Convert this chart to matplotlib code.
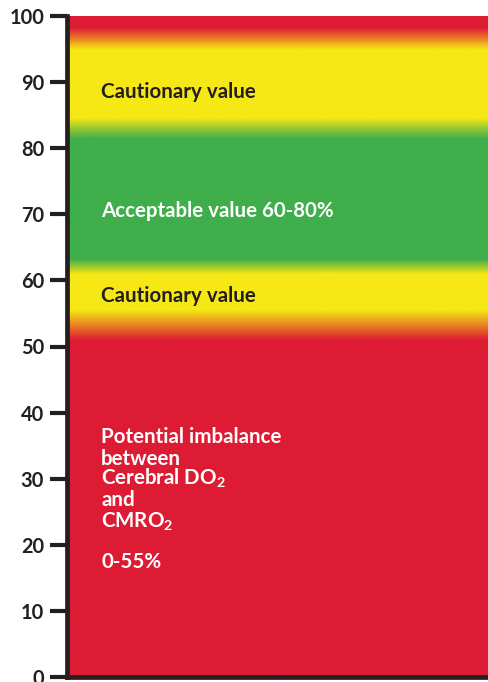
import numpy as np
import matplotlib
matplotlib.use("Agg")
import matplotlib.pyplot as plt
from matplotlib.colors import LinearSegmentedColormap

# ---- data ----
RED = "#DD1C34"
YELLOW = "#F6E815"
GREEN = "#3FAE4B"
DARK = "#231F20"

stop_values = [0, 51.0, 55.5, 61.0, 63.2, 81.5, 84.7, 95.0, 98.3, 100]
stop_colors = [RED, RED, YELLOW, YELLOW, GREEN, GREEN, YELLOW, YELLOW, RED, RED]

yticks = [0, 10, 20, 30, 40, 50, 60, 70, 80, 90, 100]

zone_labels = ["Cautionary value", "Acceptable value 60-80%", "Cautionary value"]
zone_label_y = [87.6, 69.6, 56.7]
zone_label_colors = [DARK, "white", DARK]

red_lines = ["Potential imbalance", "between", r"Cerebral DO$_2$", "and", r"CMRO$_2$", "0-55%"]
red_lines_y = [35.4, 32.1, 29.05, 25.9, 22.55, 16.5]

# ---- style ----
plt.rcParams["font.family"] = ["Lato", "DejaVu Sans"]
plt.rcParams["font.weight"] = "bold"
plt.rcParams["mathtext.fontset"] = "custom"
plt.rcParams["mathtext.rm"] = "Lato:bold"
plt.rcParams["mathtext.it"] = "Lato:bold"
plt.rcParams["mathtext.bf"] = "Lato:bold"
plt.rcParams["mathtext.default"] = "rm"

fig = plt.figure(figsize=(4.88, 6.82), dpi=100)
ax = fig.add_axes([67 / 488, 1 - 677 / 682, 1 - 67 / 488, (677 - 16) / 682])

cmap = LinearSegmentedColormap.from_list(
    "zones", [(v / 100.0, c) for v, c in zip(stop_values, stop_colors)], N=1024)
grad = np.linspace(0, 100, 1000).reshape(-1, 1)
ax.imshow(grad, cmap=cmap, vmin=0, vmax=100, aspect="auto",
          extent=[0, 1, 0, 100], origin="lower", interpolation="bilinear")

ax.set_xlim(0, 1)
ax.set_ylim(0, 100)
ax.set_yticks(yticks)
ax.set_yticklabels([str(t) for t in yticks])
ax.set_xticks([])

for s in ["top", "right"]:
    ax.spines[s].set_visible(False)
for s in ["left", "bottom"]:
    ax.spines[s].set_linewidth(3.4)
    ax.spines[s].set_color(DARK)
    ax.spines[s].set_capstyle("projecting")

ax.tick_params(axis="y", length=12.5, width=3.0, color=DARK, pad=4,
               labelsize=14.4, labelcolor=DARK)
for lbl in ax.get_yticklabels():
    lbl.set_fontweight("bold")

x0 = (101 - 67) / (488 - 67)
for txt, y, c in zip(zone_labels, zone_label_y, zone_label_colors):
    ax.text(x0, y, txt, color=c, fontsize=14.8, fontweight="bold",
            va="baseline", ha="left")

for txt, y in zip(red_lines, red_lines_y):
    ax.text(x0, y, txt, color="white", fontsize=14.8, fontweight="bold",
            va="baseline", ha="left")

fig.savefig("out.png", dpi=100)
